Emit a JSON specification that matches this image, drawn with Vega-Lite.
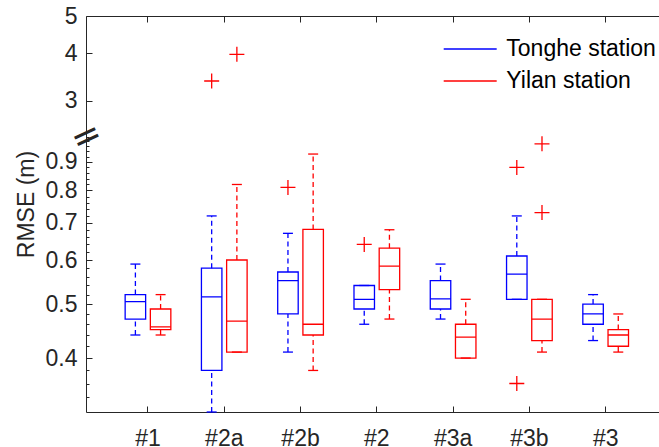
{
  "$schema": "https://vega.github.io/schema/vega-lite/v6.json",
  "width": 573,
  "height": 396,
  "autosize": {"type": "none"},
  "padding": {"left": 86, "top": 16, "right": 0, "bottom": 35},
  "background": "white",
  "config": {
    "font": "Liberation Sans",
    "view": {"stroke": null},
    "axis": {
      "domainColor": "#262626", "tickColor": "#262626", "labelColor": "#262626", "titleColor": "#262626",
      "labelFont": "Liberation Sans", "titleFont": "Liberation Sans", "labelFontSize": 23, "titleFontSize": 23,
      "titleFontWeight": "normal", "grid": false, "domainWidth": 1, "tickWidth": 1, "labelOverlap": false, "labelFlush": false
    }
  },
  "datasets": {
    "stats": [
      {"cat": "#1", "station": "Tonghe station", "lo": 0.44, "q1": 0.47, "med": 0.505, "q3": 0.52, "hi": 0.59},
      {"cat": "#1", "station": "Yilan station", "lo": 0.44, "q1": 0.45, "med": 0.455, "q3": 0.49, "hi": 0.52},
      {"cat": "#2a", "station": "Tonghe station", "lo": 0.32, "q1": 0.38, "med": 0.515, "q3": 0.58, "hi": 0.72},
      {"cat": "#2a", "station": "Yilan station", "lo": 0.41, "q1": 0.41, "med": 0.466, "q3": 0.6, "hi": 0.82},
      {"cat": "#2b", "station": "Tonghe station", "lo": 0.41, "q1": 0.48, "med": 0.551, "q3": 0.571, "hi": 0.67},
      {"cat": "#2b", "station": "Yilan station", "lo": 0.38, "q1": 0.44, "med": 0.46, "q3": 0.681, "hi": 0.93},
      {"cat": "#2", "station": "Tonghe station", "lo": 0.46, "q1": 0.49, "med": 0.51, "q3": 0.54, "hi": 0.54},
      {"cat": "#2", "station": "Yilan station", "lo": 0.47, "q1": 0.531, "med": 0.585, "q3": 0.63, "hi": 0.68},
      {"cat": "#3a", "station": "Tonghe station", "lo": 0.47, "q1": 0.49, "med": 0.511, "q3": 0.551, "hi": 0.59},
      {"cat": "#3a", "station": "Yilan station", "lo": 0.4, "q1": 0.4, "med": 0.436, "q3": 0.46, "hi": 0.51},
      {"cat": "#3b", "station": "Tonghe station", "lo": 0.51, "q1": 0.51, "med": 0.566, "q3": 0.61, "hi": 0.72},
      {"cat": "#3b", "station": "Yilan station", "lo": 0.41, "q1": 0.43, "med": 0.47, "q3": 0.51, "hi": 0.51},
      {"cat": "#3", "station": "Tonghe station", "lo": 0.43, "q1": 0.46, "med": 0.48, "q3": 0.5, "hi": 0.52},
      {"cat": "#3", "station": "Yilan station", "lo": 0.41, "q1": 0.42, "med": 0.44, "q3": 0.45, "hi": 0.48}
    ],
    "outliers": [
      {"cat": "#2a", "station": "Tonghe station", "value": 3.38},
      {"cat": "#2a", "station": "Yilan station", "value": 3.97},
      {"cat": "#2b", "station": "Tonghe station", "value": 0.81},
      {"cat": "#2", "station": "Tonghe station", "value": 0.64},
      {"cat": "#3b", "station": "Tonghe station", "value": 0.88},
      {"cat": "#3b", "station": "Tonghe station", "value": 0.36},
      {"cat": "#3b", "station": "Yilan station", "value": 0.97},
      {"cat": "#3b", "station": "Yilan station", "value": 0.73}
    ]
  },
  "layer": [
    {
      "data": {"name": "stats"},
      "encoding": {
        "x": {
          "field": "cat", "type": "nominal", "sort": null,
          "scale": {"domain": ["#1", "#2a", "#2b", "#2", "#3a", "#3b", "#3"], "paddingInner": 0, "paddingOuter": 0.2559, "align": 0.611},
          "axis": {"orient": "bottom", "title": null, "tickSize": -6, "labelPadding": 21, "labelAngle": 0}
        },
        "xOffset": {
          "field": "station", "type": "nominal",
          "scale": {"domain": ["Tonghe station", "Yilan station"], "paddingInner": 0.187, "paddingOuter": 0.607}
        },
        "color": {
          "field": "station", "type": "nominal",
          "scale": {"domain": ["Tonghe station", "Yilan station"], "range": ["#0000ff", "#ff0000"]},
          "legend": {
            "orient": "none", "legendX": 372.7, "legendY": 21.5, "title": null, "padding": 0,
            "symbolType": "M-3,0L3,0", "symbolSize": 312, "symbolStrokeWidth": 1.3, "symbolFillColor": "transparent",
            "labelFont": "Liberation Sans", "labelFontSize": 23, "labelColor": "#000000",
            "labelOffset": 24.6, "rowPadding": 8
          }
        }
      },
      "layer": [
        {
          "mark": {"type": "rule", "strokeDash": [5, 3.5], "strokeWidth": 1.3, "opacity": 1},
          "encoding": {
            "y": {"field": "q3", "type": "quantitative",
              "scale": {"type": "log", "domain": [0.32, 1.0], "range": [396, 120.5], "nice": false},
              "axis": {"orient": "left", "values": [0.4, 0.5, 0.6, 0.7, 0.8, 0.9], "format": ".1f", "tickSize": -6, "labelPadding": 15, "title": "RMSE (m)", "titleX": -60, "titleY": 188, "titleBaseline": "middle", "titleAngle": 270}},
            "y2": {"field": "hi"}
          }
        },
        {
          "mark": {"type": "rule", "strokeDash": [5, 3.5], "strokeWidth": 1.3, "opacity": 1},
          "encoding": {
            "y": {"field": "lo", "type": "quantitative",
              "scale": {"type": "log", "domain": [0.32, 1.0], "range": [396, 120.5], "nice": false},
              "axis": {"orient": "left", "values": [0.4, 0.5, 0.6, 0.7, 0.8, 0.9], "format": ".1f", "tickSize": -6, "labelPadding": 15, "title": "RMSE (m)", "titleX": -60, "titleY": 188, "titleBaseline": "middle", "titleAngle": 270}},
            "y2": {"field": "q1"}
          }
        },
        {
          "mark": {"type": "bar", "filled": false, "strokeWidth": 1.3, "opacity": 1},
          "encoding": {
            "y": {"field": "q1", "type": "quantitative",
              "scale": {"type": "log", "domain": [0.32, 1.0], "range": [396, 120.5], "nice": false},
              "axis": {"orient": "left", "values": [0.4, 0.5, 0.6, 0.7, 0.8, 0.9], "format": ".1f", "tickSize": -6, "labelPadding": 15, "title": "RMSE (m)", "titleX": -60, "titleY": 188, "titleBaseline": "middle", "titleAngle": 270}},
            "y2": {"field": "q3"}
          }
        },
        {
          "mark": {"type": "bar", "filled": false, "strokeWidth": 1.3, "opacity": 1},
          "encoding": {
            "y": {"field": "med", "type": "quantitative",
              "scale": {"type": "log", "domain": [0.32, 1.0], "range": [396, 120.5], "nice": false},
              "axis": {"orient": "left", "values": [0.4, 0.5, 0.6, 0.7, 0.8, 0.9], "format": ".1f", "tickSize": -6, "labelPadding": 15, "title": "RMSE (m)", "titleX": -60, "titleY": 188, "titleBaseline": "middle", "titleAngle": 270}},
            "y2": {"field": "med"}
          }
        },
        {
          "mark": {"type": "tick", "size": 10, "thickness": 1.3, "orient": "horizontal", "opacity": 1},
          "encoding": {
            "y": {"field": "hi", "type": "quantitative",
              "scale": {"type": "log", "domain": [0.32, 1.0], "range": [396, 120.5], "nice": false},
              "axis": {"orient": "left", "values": [0.4, 0.5, 0.6, 0.7, 0.8, 0.9], "format": ".1f", "tickSize": -6, "labelPadding": 15, "title": "RMSE (m)", "titleX": -60, "titleY": 188, "titleBaseline": "middle", "titleAngle": 270}}
          }
        },
        {
          "mark": {"type": "tick", "size": 10, "thickness": 1.3, "orient": "horizontal", "opacity": 1},
          "encoding": {
            "y": {"field": "lo", "type": "quantitative",
              "scale": {"type": "log", "domain": [0.32, 1.0], "range": [396, 120.5], "nice": false},
              "axis": {"orient": "left", "values": [0.4, 0.5, 0.6, 0.7, 0.8, 0.9], "format": ".1f", "tickSize": -6, "labelPadding": 15, "title": "RMSE (m)", "titleX": -60, "titleY": 188, "titleBaseline": "middle", "titleAngle": 270}}
          }
        }
      ]
    },
    {
      "data": {"name": "outliers"},
      "transform": [{"filter": "datum.value < 2"}],
      "mark": {"type": "point", "shape": "M-1,0L1,0M0,-1L0,1", "filled": false, "color": "#ff0000", "strokeWidth": 1.3, "size": 225, "opacity": 1},
      "encoding": {
        "x": {"field": "cat", "type": "nominal", "sort": null,
          "scale": {"domain": ["#1", "#2a", "#2b", "#2", "#3a", "#3b", "#3"], "paddingInner": 0, "paddingOuter": 0.2559, "align": 0.611},
          "axis": null},
        "xOffset": {"field": "station", "type": "nominal",
          "scale": {"domain": ["Tonghe station", "Yilan station"], "paddingInner": 0.187, "paddingOuter": 0.607}},
        "y": {"field": "value", "type": "quantitative",
          "scale": {"type": "log", "domain": [0.32, 1.0], "range": [396, 120.5], "nice": false},
          "axis": {"orient": "left", "title": null, "domain": false,
            "values": [0.34, 0.36, 0.38, 0.42, 0.44, 0.46, 0.48, 0.52, 0.54, 0.56, 0.58, 0.62, 0.64, 0.66, 0.68, 0.72, 0.74, 0.76, 0.78, 0.82, 0.84, 0.86, 0.88, 0.92, 0.94, 0.96, 0.98, 1.0],
            "tickSize": -3, "labelExpr": "datum.value > 0.995 ? '=' : ''", "labelAngle": 335,
            "labelAlign": "center", "labelBaseline": "middle", "labelFont": "DejaVu Sans", "labelFontSize": 36, "labelPadding": 3, "labelBound": false}}
      }
    },
    {
      "data": {"name": "outliers"},
      "transform": [{"filter": "datum.value > 2"}],
      "mark": {"type": "point", "shape": "M-1,0L1,0M0,-1L0,1", "filled": false, "color": "#ff0000", "strokeWidth": 1.3, "size": 225, "opacity": 1},
      "encoding": {
        "x": {"field": "cat", "type": "nominal", "sort": null,
          "scale": {"domain": ["#1", "#2a", "#2b", "#2", "#3a", "#3b", "#3"], "paddingInner": 0, "paddingOuter": 0.2559, "align": 0.611},
          "axis": {"orient": "top", "labels": false, "title": null, "tickSize": -6}},
        "xOffset": {"field": "station", "type": "nominal",
          "scale": {"domain": ["Tonghe station", "Yilan station"], "paddingInner": 0.187, "paddingOuter": 0.607}},
        "y": {"field": "value", "type": "quantitative",
          "scale": {"type": "log", "domain": [2.42, 5], "range": [120.5, 0], "nice": false},
          "axis": {"orient": "left", "title": null, "values": [3, 4, 5], "format": "d", "tickSize": -6, "labelPadding": 15}}
      }
    }
  ],
  "resolve": {"scale": {"y": "independent"}, "axis": {"x": "independent", "y": "independent"}}
}
